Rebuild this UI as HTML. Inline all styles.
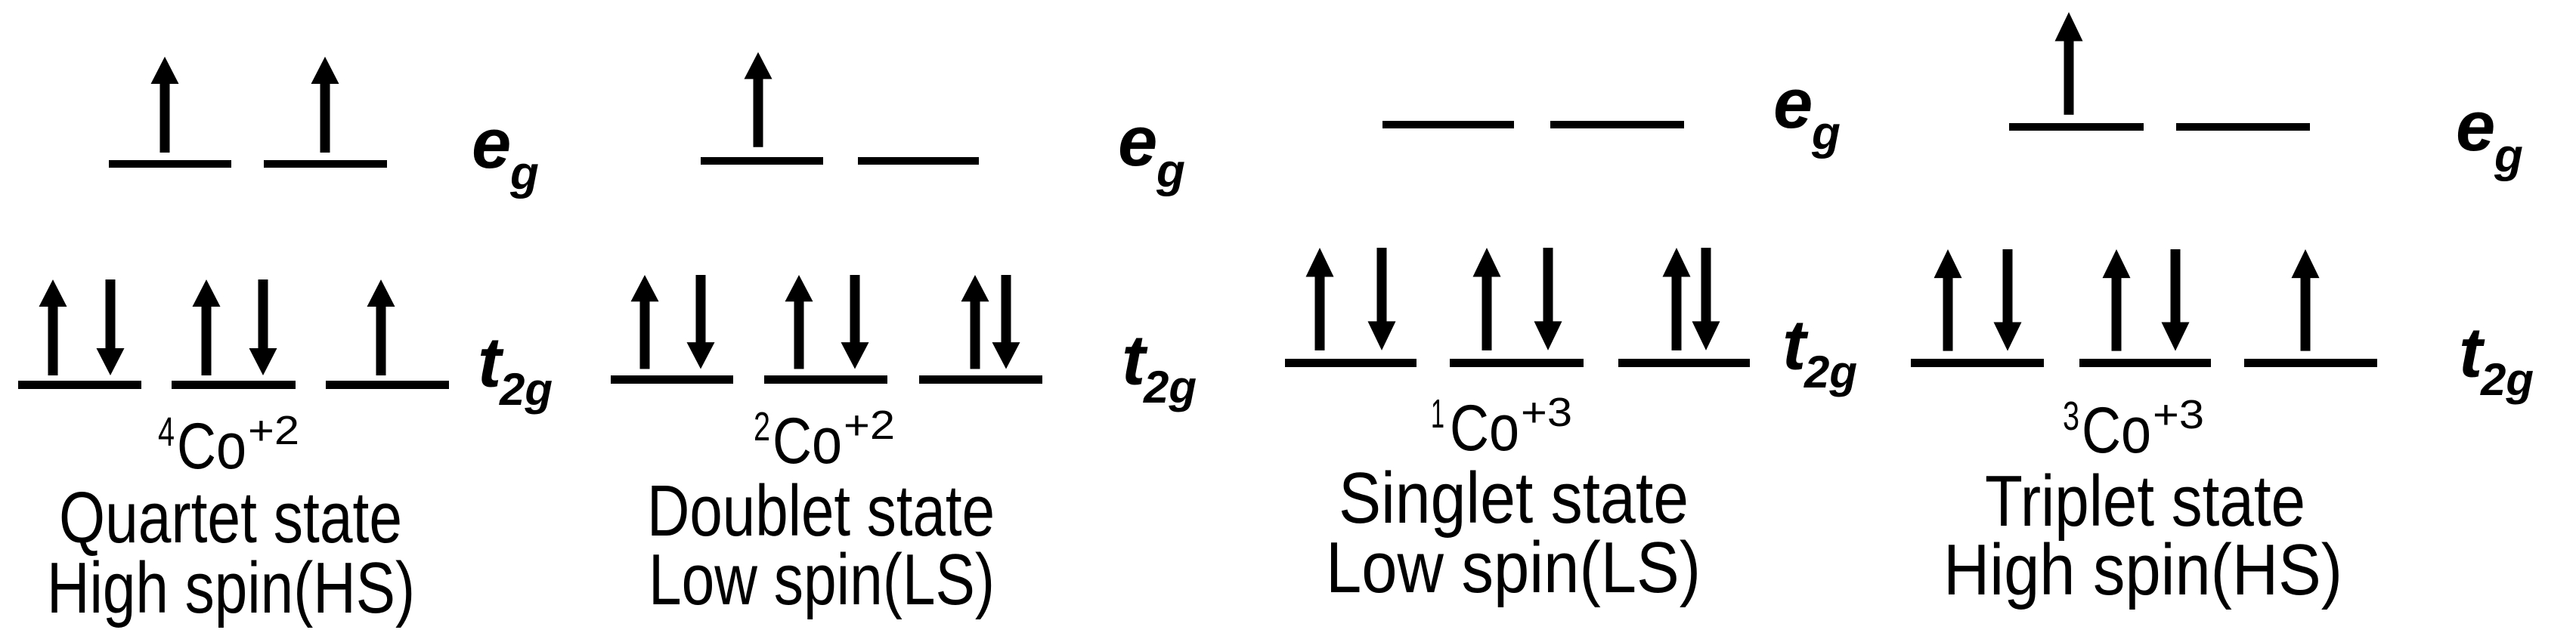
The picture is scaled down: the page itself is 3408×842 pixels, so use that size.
<!DOCTYPE html>
<html><head><meta charset="utf-8"><style>
html,body{margin:0;padding:0;background:#fff;}
svg{display:block;}
.lbl{font-family:"Liberation Sans",Arial,sans-serif;font-weight:bold;font-style:italic;fill:#000;}
.txt{font-family:"Liberation Sans",Arial,sans-serif;fill:#000;}
</style></head><body>
<svg width="3408" height="842" viewBox="0 0 3408 842" xmlns="http://www.w3.org/2000/svg">
<defs>
<g id="up"><rect x="-6.5" y="34" width="13" height="93" fill="#000"/><polygon points="-18.5,36 18.5,36 0,0" fill="#000"/></g>
<g id="dn"><rect x="-6.5" y="0" width="13" height="93" fill="#000"/><polygon points="-18.5,91 18.5,91 0,127" fill="#000"/></g>
</defs>
<g fill="#000">
<rect x="144" y="212" width="162" height="10"/>
<rect x="349" y="212" width="163" height="10"/>
<rect x="24" y="504" width="163" height="11"/>
<rect x="227" y="504" width="164" height="11"/>
<rect x="431" y="504" width="163" height="11"/>
<rect x="927" y="208" width="162" height="10"/>
<rect x="1135" y="208" width="160" height="10"/>
<rect x="808" y="497" width="162" height="11"/>
<rect x="1011" y="497" width="163" height="11"/>
<rect x="1216" y="497" width="163" height="11"/>
<rect x="1829" y="160" width="174" height="10"/>
<rect x="2051" y="160" width="177" height="10"/>
<rect x="1700" y="475" width="174" height="11"/>
<rect x="1918" y="475" width="177" height="11"/>
<rect x="2141" y="475" width="174" height="11"/>
<rect x="2658" y="163" width="178" height="10"/>
<rect x="2879" y="163" width="177" height="10"/>
<rect x="2528" y="475" width="176" height="11"/>
<rect x="2751" y="475" width="174" height="11"/>
<rect x="2969" y="475" width="176" height="11"/>
</g>
<use href="#up" transform="translate(218,75)"/>
<use href="#up" transform="translate(430,75)"/>
<use href="#up" transform="translate(70,370)"/>
<use href="#dn" transform="translate(146,370)"/>
<use href="#up" transform="translate(273,370)"/>
<use href="#dn" transform="translate(348,370)"/>
<use href="#up" transform="translate(504,370)"/>

<use href="#up" transform="translate(1003,69) scale(1,0.99)"/>
<use href="#up" transform="translate(853,364) scale(1,0.98)"/>
<use href="#dn" transform="translate(927,364) scale(1,0.98)"/>
<use href="#up" transform="translate(1057,364) scale(1,0.98)"/>
<use href="#dn" transform="translate(1131,364) scale(1,0.98)"/>
<use href="#up" transform="translate(1290,364) scale(1,0.98)"/>
<use href="#dn" transform="translate(1331,364) scale(1,0.98)"/>

<use href="#up" transform="translate(1746,328) scale(1,1.07)"/>
<use href="#dn" transform="translate(1828,328) scale(1,1.07)"/>
<use href="#up" transform="translate(1967,328) scale(1,1.07)"/>
<use href="#dn" transform="translate(2048,328) scale(1,1.07)"/>
<use href="#up" transform="translate(2218,328) scale(1,1.07)"/>
<use href="#dn" transform="translate(2257,328) scale(1,1.07)"/>

<use href="#up" transform="translate(2737,16) scale(1,1.07)"/>
<use href="#up" transform="translate(2577,330) scale(1,1.06)"/>
<use href="#dn" transform="translate(2656,330) scale(1,1.06)"/>
<use href="#up" transform="translate(2800,330) scale(1,1.06)"/>
<use href="#dn" transform="translate(2878,330) scale(1,1.06)"/>
<use href="#up" transform="translate(3050,330) scale(1,1.06)"/>

<text class="lbl" x="624" y="222" font-size="94">e</text><text class="lbl" x="675" y="250" font-size="62">g</text>
<text class="lbl" x="632" y="512" font-size="94">t</text><text class="lbl" x="661" y="536" font-size="60">2g</text>

<text class="lbl" x="1479" y="219" font-size="94">e</text><text class="lbl" x="1530" y="247" font-size="62">g</text>
<text class="lbl" x="1484" y="509" font-size="94">t</text><text class="lbl" x="1513" y="533" font-size="60">2g</text>

<text class="lbl" x="2346" y="169" font-size="94">e</text><text class="lbl" x="2397" y="197" font-size="62">g</text>
<text class="lbl" x="2358" y="489" font-size="94">t</text><text class="lbl" x="2387" y="513" font-size="60">2g</text>

<text class="lbl" x="3249" y="199" font-size="94">e</text><text class="lbl" x="3300" y="227" font-size="62">g</text>
<text class="lbl" x="3253" y="499" font-size="94">t</text><text class="lbl" x="3282" y="523" font-size="60">2g</text>

<text class="txt" x="209" y="590" font-size="54" textLength="22" lengthAdjust="spacingAndGlyphs">4</text>
<text class="txt" x="234" y="620" font-size="86" textLength="92" lengthAdjust="spacingAndGlyphs">Co</text>
<text class="txt" x="328" y="588" font-size="54" textLength="68" lengthAdjust="spacingAndGlyphs">+2</text>

<text class="txt" x="997" y="583" font-size="54" textLength="22" lengthAdjust="spacingAndGlyphs">2</text>
<text class="txt" x="1022" y="613" font-size="86" textLength="92" lengthAdjust="spacingAndGlyphs">Co</text>
<text class="txt" x="1116" y="581" font-size="54" textLength="68" lengthAdjust="spacingAndGlyphs">+2</text>

<text class="txt" x="1893" y="566" font-size="54" textLength="18" lengthAdjust="spacingAndGlyphs">1</text>
<text class="txt" x="1918" y="596" font-size="86" textLength="92" lengthAdjust="spacingAndGlyphs">Co</text>
<text class="txt" x="2012" y="564" font-size="54" textLength="68" lengthAdjust="spacingAndGlyphs">+3</text>

<text class="txt" x="2729" y="569" font-size="54" textLength="22" lengthAdjust="spacingAndGlyphs">3</text>
<text class="txt" x="2754" y="599" font-size="86" textLength="92" lengthAdjust="spacingAndGlyphs">Co</text>
<text class="txt" x="2848" y="567" font-size="54" textLength="68" lengthAdjust="spacingAndGlyphs">+3</text>

<text class="txt" x="78" y="718" font-size="96" textLength="454" lengthAdjust="spacingAndGlyphs">Quartet state</text>
<text class="txt" x="62" y="811" font-size="96" textLength="487" lengthAdjust="spacingAndGlyphs">High spin(HS)</text>

<text class="txt" x="856" y="709" font-size="96" textLength="460" lengthAdjust="spacingAndGlyphs">Doublet state</text>
<text class="txt" x="858" y="800" font-size="96" textLength="458" lengthAdjust="spacingAndGlyphs">Low spin(LS)</text>

<text class="txt" x="1771" y="692" font-size="96" textLength="463" lengthAdjust="spacingAndGlyphs">Singlet state</text>
<text class="txt" x="1754" y="784" font-size="96" textLength="496" lengthAdjust="spacingAndGlyphs">Low spin(LS)</text>

<text class="txt" x="2626" y="696" font-size="96" textLength="424" lengthAdjust="spacingAndGlyphs">Triplet state</text>
<text class="txt" x="2571" y="787" font-size="96" textLength="528" lengthAdjust="spacingAndGlyphs">High spin(HS)</text>
</svg>
</body></html>
